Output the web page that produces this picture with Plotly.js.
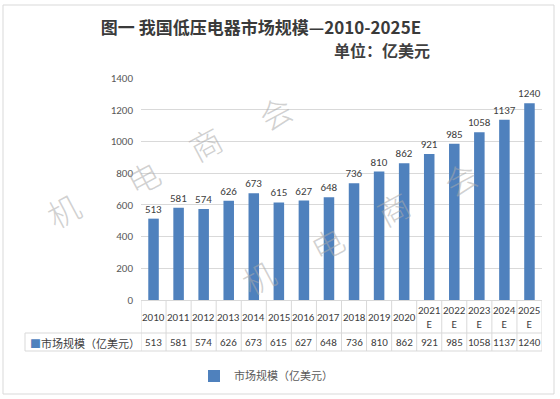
<!DOCTYPE html>
<html>
<head>
<meta charset="utf-8">
<script src="https://cdn.plot.ly/plotly-3.0.1.min.js"></script>
<style>html,body{margin:0;padding:0;background:#fff}#chart{width:560px;height:399px}</style>
</head>
<body>
<div id="chart"></div>
<script>
// ---- data ----
const years = ['2010','2011','2012','2013','2014','2015','2016','2017','2018','2019','2020','2021E','2022E','2023E','2024E','2025E'];
const headerLabels = ['2010','2011','2012','2013','2014','2015','2016','2017','2018','2019','2020','2021<br>E','2022<br>E','2023<br>E','2024<br>E','2025<br>E'];
const values = [513,581,574,626,673,615,627,648,736,810,862,921,985,1058,1137,1240];
const yTicks = [0,200,400,600,800,1000,1200,1400];
const seriesName = '市场规模（亿美元）';
const titleText = '图一 我国低压电器市场规模—2010-2025E';
const unitText = '单位：亿美元';
const watermarkChars = ['机','电','商','会'];

// ---- layout helpers (pixel -> paper) ----
const W = 560, H = 399, L = 141, R = 542, T = 78, B = 300;
const px = X => (X - L) / (R - L);
const py = Y => (B - Y) / (B - T);

const numFont = 'Carlito, Lato, "Noto Sans", sans-serif';
const cjkFont = '"Noto Sans CJK SC", sans-serif';
const gridColor = '#d9d9d9';
const barColor = '#4F81BD';

const shapes = [];
const annotations = [];

// outer border
shapes.push({type:'rect', xref:'paper', yref:'paper', x0:px(3), x1:px(554), y0:py(5), y1:py(394),
  line:{color:'#d9d9d9', width:1}, fillcolor:'rgba(0,0,0,0)', layer:'below'});

// data table grid
for (let i = 0; i <= years.length; i++) {
  shapes.push({type:'line', xref:'x', yref:'paper', x0:i-0.5, x1:i-0.5, y0:py(300), y1:py(351),
    line:{color:gridColor, width:1}});
}
shapes.push({type:'line', xref:'paper', yref:'paper', x0:px(25), x1:px(25), y0:py(333), y1:py(351), line:{color:gridColor, width:1}});
shapes.push({type:'line', xref:'paper', yref:'paper', x0:px(25), x1:1, y0:py(333), y1:py(333), line:{color:gridColor, width:1}});
shapes.push({type:'line', xref:'paper', yref:'paper', x0:px(25), x1:1, y0:py(351), y1:py(351), line:{color:gridColor, width:1}});

// table header (years) and values
years.forEach((y, i) => {
  annotations.push({xref:'x', yref:'paper', x:i, y:py(317), text:headerLabels[i], showarrow:false,
    font:{family:numFont, size:11, color:'#404040'}, xanchor:'center', yanchor:'middle'});
  annotations.push({xref:'x', yref:'paper', x:i, y:py(342.5), text:String(values[i]), showarrow:false,
    font:{family:numFont, size:11, color:'#404040'}, xanchor:'center', yanchor:'middle'});
});
annotations.push({xref:'paper', yref:'paper', x:px(28), y:py(342.5), xanchor:'left', yanchor:'middle', showarrow:false,
  text:'<span style="color:' + barColor + '">■</span>' + seriesName,
  font:{family:cjkFont, size:11, color:'#404040'}});

// unit subtitle
annotations.push({xref:'paper', yref:'paper', x:px(432), y:py(50), xanchor:'right', yanchor:'middle', showarrow:false,
  text:'<b>' + unitText + '</b>', font:{family:cjkFont, size:16, color:'#404040'}});

// watermarks
const wmGroups = [[[63,210],[143,177],[205,143],[275,112]], [[258,277],[327,243],[393,208],[460,178]]];
wmGroups.forEach(g => g.forEach((p, k) => {
  annotations.push({xref:'paper', yref:'paper', x:px(p[0]), y:py(p[1]), xanchor:'center', yanchor:'middle', showarrow:false,
    text:watermarkChars[k], textangle:-28, font:{family:cjkFont, size:32, color:'rgba(170,170,170,0.55)', weight:300}});
}));

const trace = {
  type:'bar', name:seriesName, x:years, y:values,
  text:values.map(String), textposition:'outside', cliponaxis:false, constraintext:'none',
  textfont:{family:numFont, size:11, color:'#404040'},
  marker:{color:barColor}, width:0.42, hoverinfo:'x+y'
};

const layout = {
  width:W, height:H,
  margin:{l:L, r:W-R, t:T, b:H-B, pad:0},
  paper_bgcolor:'#ffffff', plot_bgcolor:'#ffffff',
  title:{text:'<b>' + titleText + '</b>', xref:'container', x:261/W, xanchor:'center', yref:'container', y:1-28/H, yanchor:'middle',
    font:{family:cjkFont, size:17, color:'#3a3a3a'}},
  xaxis:{type:'category', range:[-0.5, years.length-0.5], showticklabels:false, showgrid:false, zeroline:false,
    showline:true, linecolor:gridColor, linewidth:1, fixedrange:true},
  yaxis:{range:[0,1400], tickvals:yTicks, showgrid:true, gridcolor:gridColor, gridwidth:1, zeroline:false, showline:false,
    ticks:'', ticklabelstandoff:7, tickfont:{family:numFont, size:11, color:'#595959'}, fixedrange:true},
  showlegend:true,
  legend:{orientation:'h', xref:'container', yref:'container', x:194/W, y:1-376/H, xanchor:'left', yanchor:'middle',
    font:{family:cjkFont, size:11, color:'#595959'}, itemwidth:30},
  bargap:0.58,
  shapes:shapes, annotations:annotations
};

Plotly.newPlot('chart', [trace], layout, {displayModeBar:false, staticPlot:true});
</script>
</body>
</html>
